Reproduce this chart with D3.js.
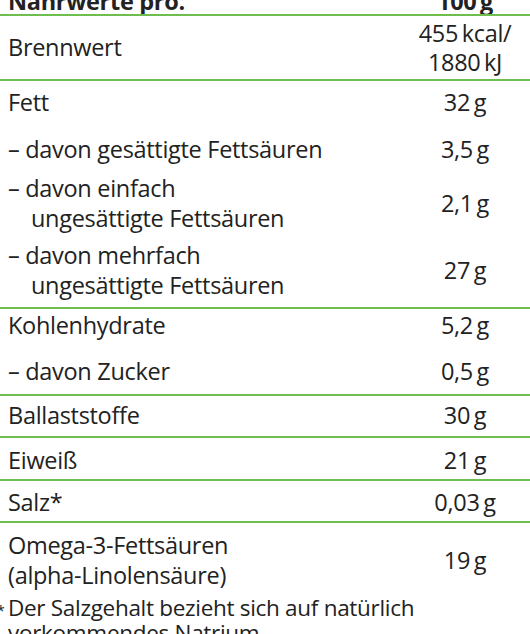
<!DOCTYPE html>
<html><head><meta charset="utf-8">
<script src="https://cdn.jsdelivr.net/npm/d3@7"></script>
<style>body{margin:0;background:#fff}</style></head>
<body><svg id="c" width="530" height="634"></svg>
<script>
const labels = [["Nährwerte pro."],["Brennwert"],["Fett"],["– davon gesättigte Fettsäuren"],["– davon einfach","  ungesättigte Fettsäuren"],["– davon mehrfach","  ungesättigte Fettsäuren"],["Kohlenhydrate"],["– davon Zucker"],["Ballaststoffe"],["Eiweiß"],["Salz*"],["Omega-3-Fettsäuren","(alpha-Linolensäure)"]];
const values = [["100\u2009g"],["455\u2009kcal/","1880\u2009kJ"],["32\u2009g"],["3,5\u2009g"],["2,1\u2009g"],["27\u2009g"],["5,2\u2009g"],["0,5\u2009g"],["30\u2009g"],["21\u2009g"],["0,03\u2009g"],["19\u2009g"]];
const rowCenters = [2,48,103,150,204,271,326,372,416,461,503,561];
const lineY = [15,80,308,395,437,480,522];
const footnote = ["Der Salzgehalt bezieht sich auf natürlich","vorkommendes Natrium"];

const svg = d3.select("#c");
const font = "'Open Sans', sans-serif";
const fs = 23.5;
const lh = 30;
const y = d3.scaleLinear().domain([0,634]).range([0,634]);
labels.forEach((l,i)=>{
  const bold = i===0;
  const t = svg.append("text").attr("font-family",font).attr("font-size",fs)
    .attr("font-weight",bold?700:400).attr("fill","#222").attr("letter-spacing",-0.3);
  l.forEach((s,j)=>t.append("tspan").attr("x", s.startsWith("  ")?31:8)
    .attr("y", y(rowCenters[i] + (j-(l.length-1)/2)*lh) + 8).text(s.trim()));
  const v = svg.append("text").attr("text-anchor","middle").attr("font-family",font)
    .attr("font-size",fs).attr("font-weight",bold?700:400).attr("fill","#222").attr("letter-spacing",-0.3);
  values[i].forEach((s,j)=>v.append("tspan").attr("x",465)
    .attr("y", y(rowCenters[i] + (j-(values[i].length-1)/2)*29) + 8).text(s));
});
lineY.forEach(d=>svg.append("line").attr("x1",0).attr("x2",530)
  .attr("y1",y(d)).attr("y2",y(d)).attr("stroke","#6dbd4f").attr("stroke-width",2));
svg.append("text").attr("x",-3).attr("y",616).attr("font-family",font).attr("font-size",14).attr("fill","#222").text("*");
footnote.forEach((s,j)=>svg.append("text").attr("x",8).attr("y",616+j*25).attr("font-family",font)
  .attr("font-size",22.5).attr("letter-spacing",-0.3).attr("fill","#222").text(s));
</script></body></html>
